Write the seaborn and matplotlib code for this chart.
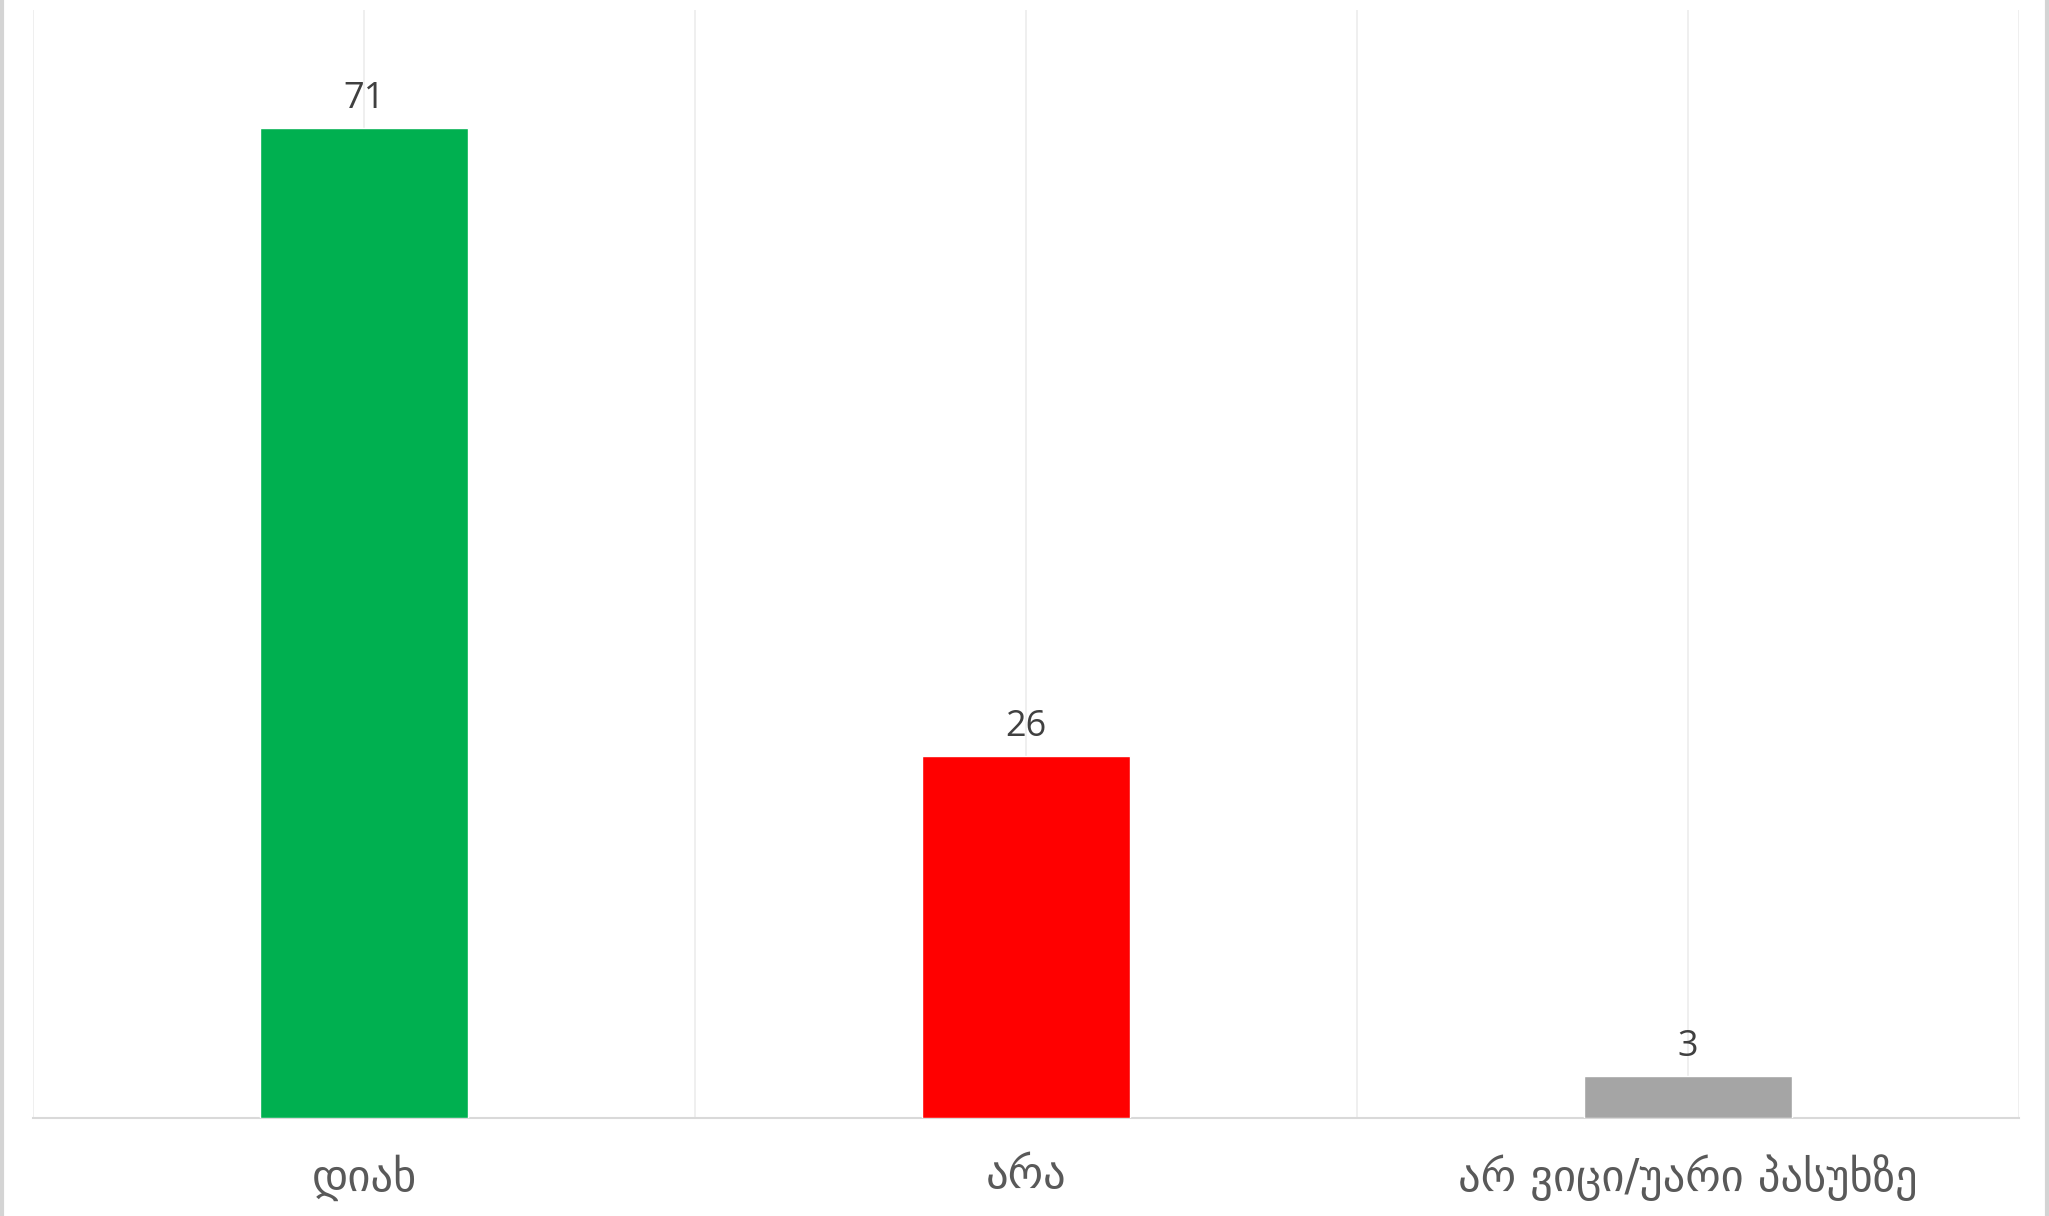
import matplotlib
matplotlib.use("Agg")
import matplotlib.pyplot as plt
import seaborn as sns
import pandas as pd
from matplotlib.lines import Line2D

categories = ["დიახ", "არა", "არ ვიცი/უარი პასუხზე"]
values = [71, 26, 3]
colors = ["#00B050", "#FF0000", "#A5A5A5"]

sns.set_theme(style="white")
plt.rcParams['font.family'] = ['DejaVu Sans']

fig = plt.figure(figsize=(20.49, 12.16), dpi=100)
ax = fig.add_axes([33/2049, 1 - 1118/1216, (2019-33)/2049, (1118-10)/1216])

df = pd.DataFrame({"cat": categories, "val": values})
sns.barplot(data=df, x="cat", y="val", hue="cat", palette=colors, width=0.315,
            ax=ax, legend=False, saturation=1, zorder=3)

ax.set_xlim(-0.5, 2.5)
ax.set_ylim(0, 79.5)
ax.set_xticks([0, 1, 2])
ax.set_xticks([-0.5, 0.5, 1.5, 2.5], minor=True)
ax.set_xticklabels(categories, fontsize=32, color="#595959", family=['DejaVu Sans'])
ax.tick_params(axis="x", which="both", length=0, pad=26)
ax.set_yticks([])
ax.xaxis.grid(True, which="both", color="#ececec", linewidth=1.2, zorder=0)
ax.set_axisbelow(True)
ax.set_xlabel("")
ax.set_ylabel("")
for s in ["top", "left", "right"]:
    ax.spines[s].set_visible(False)
ax.spines["bottom"].set_color("#d9d9d9")
ax.spines["bottom"].set_linewidth(1.5)

for c in ax.containers:
    ax.bar_label(c, fmt="%d", padding=8, fontsize=26, color="#404040",
                 family=['Open Sans', 'DejaVu Sans'])

fig.add_artist(Line2D([2/2049, 2/2049], [0, 1], transform=fig.transFigure, color="#d4d4d4", lw=3))
fig.add_artist(Line2D([2047/2049, 2047/2049], [0, 1], transform=fig.transFigure, color="#d4d4d4", lw=3))

fig.savefig("out.png", dpi=100, facecolor="white")
